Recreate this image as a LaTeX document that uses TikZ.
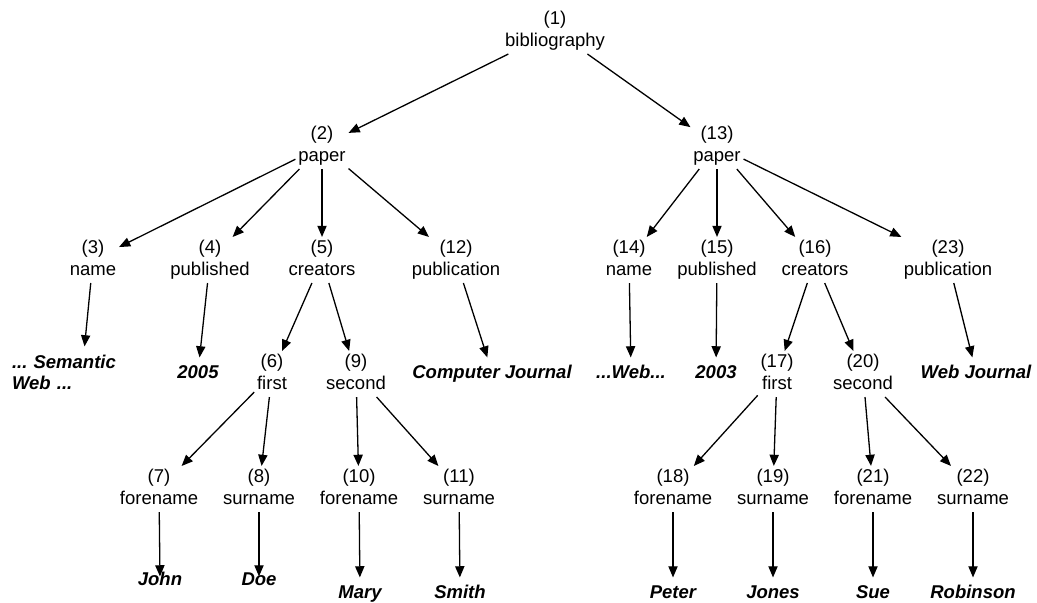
\documentclass[tikz,border=0pt]{standalone}
\usepackage{fontspec}
\setmainfont{Liberation Sans}
\usetikzlibrary{arrows.meta}
\frenchspacing
\begin{document}
\begin{tikzpicture}[x=0.5pt,y=-0.5pt,
  lab/.style={align=center,inner xsep=1.25pt,inner ysep=1.5pt,yshift=-1pt,
    font=\fontsize{9.25}{11}\selectfont,
    execute at end node={\vphantom{p}}},
  val/.style={inner xsep=1.25pt,inner ysep=3.75pt,text height=6.65pt,text depth=0pt,
    font=\fontsize{9.25}{10.5}\selectfont\bfseries\itshape},
  arr/.style={-{Triangle[length=5.6pt,width=4.6pt]},line width=0.65pt},
]
\useasboundingbox (0,0) rectangle (1037,603);

% element nodes
\node[lab] (n1)  at (555,29)  {(1)\\bibliography};
\node[lab] (n2)  at (322,144) {(2)\\paper};
\node[lab] (n13) at (717,144) {(13)\\paper};
\node[lab] (n3)  at (93,258)  {(3)\\name};
\node[lab] (n4)  at (210,258) {(4)\\published};
\node[lab] (n5)  at (322,258) {(5)\\creators};
\node[lab] (n12) at (456,258) {(12)\\publication};
\node[lab] (n14) at (629,258) {(14)\\name};
\node[lab] (n15) at (717,258) {(15)\\published};
\node[lab] (n16) at (815,258) {(16)\\creators};
\node[lab] (n23) at (948,258) {(23)\\publication};
\node[lab] (n6)  at (272,372) {(6)\\first};
\node[lab] (n9)  at (356,372) {(9)\\second};
\node[lab] (n17) at (777,372) {(17)\\first};
\node[lab] (n20) at (863,372) {(20)\\second};
\node[lab] (n7)  at (159,487) {(7)\\forename};
\node[lab] (n8)  at (259,487) {(8)\\surname};
\node[lab] (n10) at (359,487) {(10)\\forename};
\node[lab] (n11) at (459,487) {(11)\\surname};
\node[lab] (n18) at (673,487) {(18)\\forename};
\node[lab] (n19) at (773,487) {(19)\\surname};
\node[lab] (n21) at (873,487) {(21)\\forename};
\node[lab] (n22) at (973,487) {(22)\\surname};

% text values
\node[align=left,text width=70pt,inner xsep=1pt,inner ysep=4.2pt,
  font=\fontsize{9.25}{10.5}\selectfont\bfseries\itshape] (v3) at (82,372.5)
  {... Semantic\\Web ...};
\node[val] (v4)  at (198,372) {2005};
\node[val] (v12) at (492,372) {Computer Journal};
\node[val] (v14) at (631,372) {...Web...};
\node[val] (v15) at (716,372) {2003};
\node[val] (v23) at (976,372) {Web Journal};
\node[val] (v7)  at (160,579) {John};
\node[val] (v8)  at (259,579) {Doe};
\node[val] (v10) at (360,592) {Mary};
\node[val] (v11) at (460,592) {Smith};
\node[val] (v18) at (673,592) {Peter};
\node[val] (v19) at (773,592) {Jones};
\node[val] (v21) at (873,592) {Sue};
\node[val] (v22) at (973,592) {Robinson};

% edges
\draw[arr] (n1) -- (n2);
\draw[arr] (n1) -- (n13);
\draw[arr] (n2) -- (n3);
\draw[arr] (n2) -- (n4);
\draw[arr] (n2) -- (n5);
\draw[arr] (n2) -- (n12);
\draw[arr] (n13) -- (n14);
\draw[arr] (n13) -- (n15);
\draw[arr] (n13) -- (n16);
\draw[arr] (n13) -- (n23);
\draw[arr] (n3) -- (v3);
\draw[arr] (n4) -- (v4);
\draw[arr] (n5) -- (n6);
\draw[arr] (n5) -- (n9);
\draw[arr] (n12) -- (v12);
\draw[arr] (n14) -- (v14);
\draw[arr] (n15) -- (v15);
\draw[arr] (n16) -- (n17);
\draw[arr] (n16) -- (n20);
\draw[arr] (n23) -- (v23);
\draw[arr] (n6) -- (n7);
\draw[arr] (n6) -- (n8);
\draw[arr] (n9) -- (n10);
\draw[arr] (n9) -- (n11);
\draw[arr] (n17) -- (n18);
\draw[arr] (n17) -- (n19);
\draw[arr] (n20) -- (n21);
\draw[arr] (n20) -- (n22);
\draw[arr,shorten >=-6pt] (n7) -- (v7);
\draw[arr,shorten >=-6pt] (n8) -- (v8);
\draw[arr] (n10) -- (v10);
\draw[arr] (n11) -- (v11);
\draw[arr] (n18) -- (v18);
\draw[arr] (n19) -- (v19);
\draw[arr] (n21) -- (v21);
\draw[arr] (n22) -- (v22);
\end{tikzpicture}
\end{document}
